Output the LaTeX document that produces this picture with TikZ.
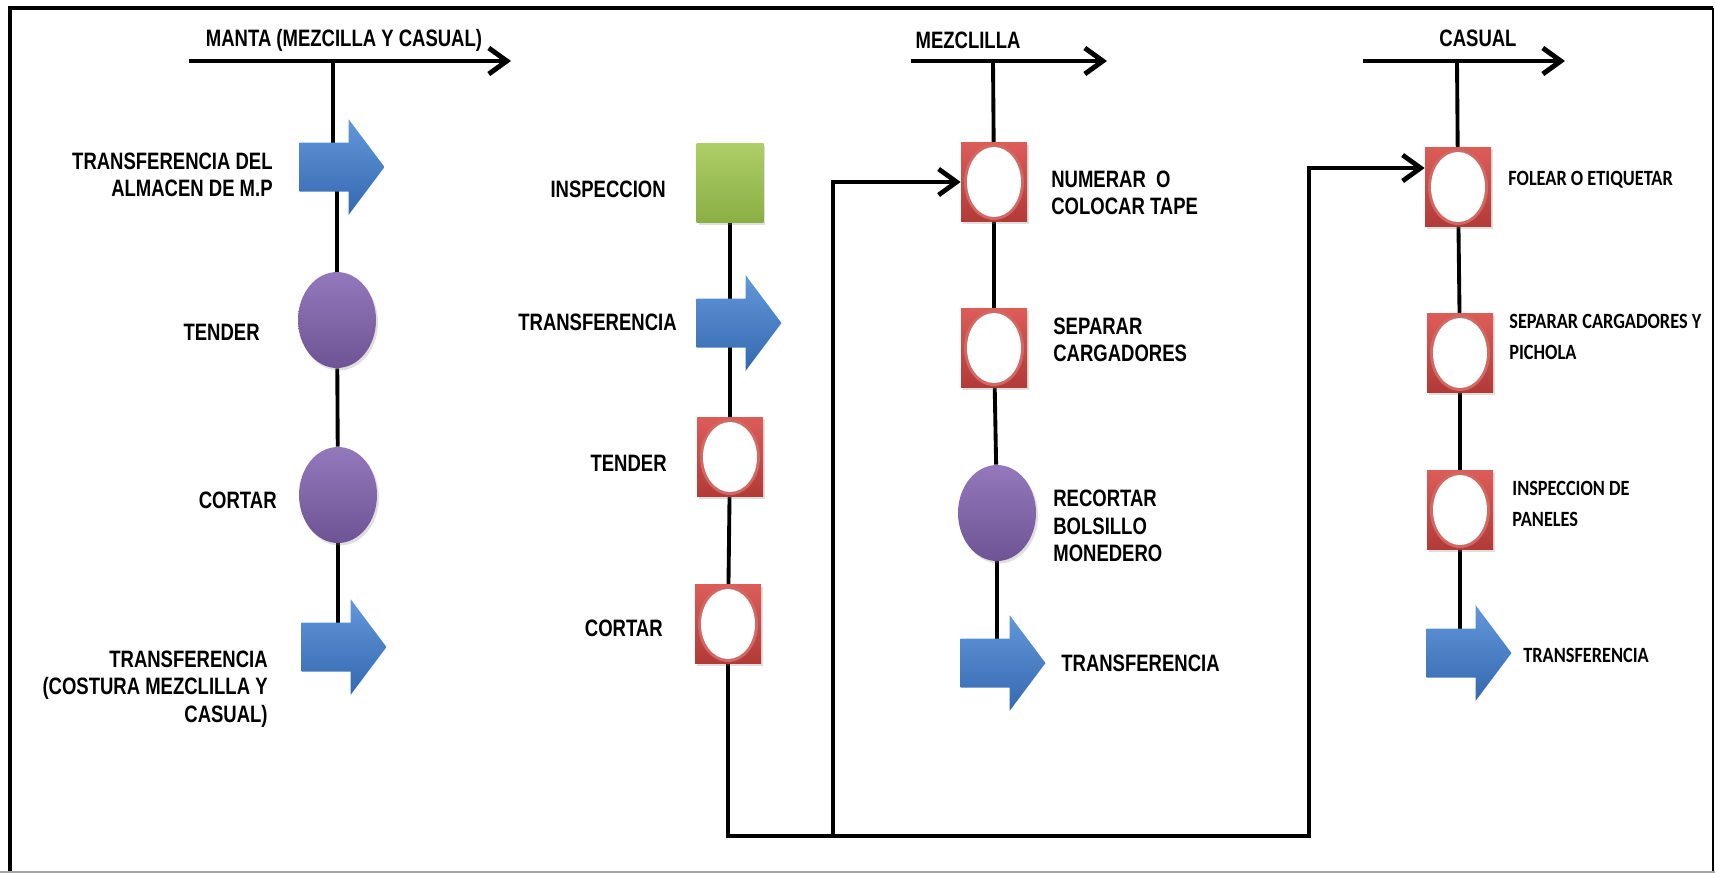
\documentclass[tikz,border=0pt]{standalone}
\usepackage{fontspec}
\usepackage{tikz}
\usetikzlibrary{arrows.meta,shapes.geometric,backgrounds,shadows}
\newfontfamily\etiq[FakeStretch=0.78]{Liberation Sans}
\newfontfamily\calib[FakeStretch=0.84]{Carlito}
\definecolor{azulA}{RGB}{98,152,218}
\definecolor{azulB}{RGB}{52,104,176}
\definecolor{rojoA}{RGB}{220,92,88}
\definecolor{rojoB}{RGB}{178,58,55}
\definecolor{rojoC}{RGB}{208,104,100}
\definecolor{verdeA}{RGB}{174,206,104}
\definecolor{verdeB}{RGB}{138,174,68}
\definecolor{moradoA}{RGB}{148,120,188}
\definecolor{moradoB}{RGB}{110,84,148}

\tikzset{
	texto/.style={font=\etiq\bfseries\fontsize{13.5}{15.6}\selectfont, inner sep=0pt},
	textoc/.style={font=\calib\bfseries\fontsize{12.4}{17.4}\selectfont, inner sep=0pt},
	sombra/.style={drop shadow={opacity=0.25, shadow xshift=0.04cm, shadow yshift=-0.05cm}},
	operacion/.style={rectangle, minimum width=1.32cm, minimum height=1.58cm, inner sep=0pt,
		top color=rojoA, bottom color=rojoB, sombra,
		path picture={
			\fill[rojoC] (path picture bounding box.center) ellipse [x radius=0.6cm, y radius=0.76cm];
			\fill[white] (path picture bounding box.center) ellipse [x radius=0.54cm, y radius=0.7cm];
		}},
	inspeccion/.style={rectangle, minimum width=1.34cm, minimum height=1.6cm, inner sep=0pt,
		top color=verdeA, bottom color=verdeB, sombra},
	proceso/.style={ellipse, minimum width=1.56cm, minimum height=1.92cm, inner sep=0pt,
		top color=moradoA, bottom color=moradoB, sombra},
	flecha/.style={rectangle, minimum width=1.7cm, minimum height=1.92cm, inner sep=0pt,
		path picture={
			\shade[top color=azulA, bottom color=azulB, shift={(path picture bounding box.center)}]
				(-0.85cm,0.49cm) -- (0.13cm,0.49cm) -- (0.13cm,0.96cm) -- (0.85cm,0cm)
				-- (0.13cm,-0.96cm) -- (0.13cm,-0.49cm) -- (-0.85cm,-0.49cm) -- cycle;
		}},
	conector/.style={line width=2.2pt},
	retorno/.style={line width=2.7pt, line join=miter},
	punta/.style={-{Straight Barb[length=0.36cm, width=0.52cm]}},
	encabezado/.style={line width=2.8pt, punta}
}

\begin{document}
\begin{tikzpicture}[x=0.02cm, y=-0.02cm]
	\useasboundingbox (0,0) rectangle (1715,873);
	\draw[line width=2.6pt] (10,873) -- (10,8) -- (1713,8);
	\draw[line width=1.5pt] (1713,8) -- (1713,873);
	\draw[gray!70, line width=0.8pt] (0,872) -- (1715,872);

	% manta
	\coordinate (h1i) at (189,61);
	\coordinate (h1f) at (511,61);
	\coordinate (h1) at (333,61);
	\node[texto] (th1) at (344,40) {MANTA (MEZCILLA Y CASUAL)};
	\node[flecha] (a1) at (342,167) {};
	\node[proceso] (a2) at (337,320) {};
	\node[proceso] (a3) at (338,495) {};
	\node[flecha] (a4) at (344,647) {};
	\node[texto, anchor=east, align=right] (la1) at (273,175) {TRANSFERENCIA DEL\\ALMACEN DE M.P};
	\node[texto, anchor=east] (la2) at (260,332) {TENDER};
	\node[texto, anchor=east] (la3) at (277,500) {CORTAR};
	\node[texto, anchor=east, align=right] (la4) at (268,689) {TRANSFERENCIA\\(COSTURA MEZCLILLA Y\\CASUAL)};

	% segunda columna
	\node[inspeccion] (b1) at (730,183) {};
	\node[flecha] (b2) at (739,323) {};
	\node[operacion] (b3) at (730,457) {};
	\node[operacion] (b4) at (728,624) {};
	\node[texto, anchor=east] (lb1) at (666,189) {INSPECCION};
	\node[texto, anchor=east] (lb2) at (677,322) {TRANSFERENCIA};
	\node[texto, anchor=east] (lb3) at (667,463) {TENDER};
	\node[texto, anchor=east] (lb4) at (663,628) {CORTAR};

	% mezclilla
	\coordinate (h3i) at (911,61);
	\coordinate (h3f) at (1107,61);
	\coordinate (h3) at (993,61);
	\node[texto] (th3) at (968,40) {MEZCLILLA};
	\node[operacion] (c1) at (994,182) {};
	\node[operacion] (c2) at (994,348) {};
	\node[proceso] (c3) at (997,513) {};
	\node[flecha] (c4) at (1003,663) {};
	\node[texto, anchor=west, align=left] (lc1) at (1051,193) {NUMERAR\ \ O\\COLOCAR TAPE};
	\node[texto, anchor=west, align=left] (lc2) at (1053,340) {SEPARAR\\CARGADORES};
	\node[texto, anchor=west, align=left] (lc3) at (1053,526) {RECORTAR\\BOLSILLO\\MONEDERO};
	\node[texto, anchor=west] (lc4) at (1061,663) {TRANSFERENCIA};

	% casual
	\coordinate (h4i) at (1363,61);
	\coordinate (h4f) at (1565,61);
	\coordinate (h4) at (1457,61);
	\node[texto] (th4) at (1478,38) {CASUAL};
	\node[operacion] (d1) at (1458,187) {};
	\node[operacion] (d2) at (1460,353) {};
	\node[operacion] (d3) at (1460,510) {};
	\node[flecha] (d4) at (1469,653) {};
	\node[textoc, anchor=west] (ld1) at (1508,180) {FOLEAR O ETIQUETAR};
	\node[textoc, anchor=west, align=left] (ld2) at (1509,337) {SEPARAR CARGADORES Y\\PICHOLA};
	\node[textoc, anchor=west, align=left] (ld3) at (1512,504) {INSPECCION DE\\PANELES};
	\node[textoc, anchor=west] (ld4) at (1523,655) {TRANSFERENCIA};

	\coordinate (r1) at (833,836);
	\coordinate (r2) at (1309,836);
	\coordinate (r3) at (1309,168);

	\draw[encabezado] (h1i) -- (h1f);
	\draw[encabezado] (h3i) -- (h3f);
	\draw[encabezado] (h4i) -- (h4f);

	\begin{scope}[on background layer]
		\draw[conector] (h1) -- (h1 |- a1);
		\draw[conector] (a2 |- a1) -- (a2);
		\draw[conector] (a2) -- (a3);
		\draw[conector] (a3) -- (a3 |- a4);
		\draw[conector] (b1) -- (b1 |- b2);
		\draw[conector] (b3 |- b2) -- (b3);
		\draw[conector] (b3) -- (b4);
		\draw[conector] (h3) -- (c1);
		\draw[conector] (c1) -- (c2);
		\draw[conector] (c2) -- (c3);
		\draw[conector] (c3) -- (c3 |- c4);
		\draw[conector] (h4) -- (d1);
		\draw[conector] (d1) -- (d2);
		\draw[conector] (d2) -- (d3);
		\draw[conector] (d3) -- (d3 |- d4);
		\draw[retorno, punta] (b4) -- (b4 |- r2) -- (r2) -- (r3) -- (r3 -| d1.west);
		\draw[retorno, punta] (r1) -- (r1 |- c1) -- (c1.west);
	\end{scope}
\end{tikzpicture}
\end{document}
